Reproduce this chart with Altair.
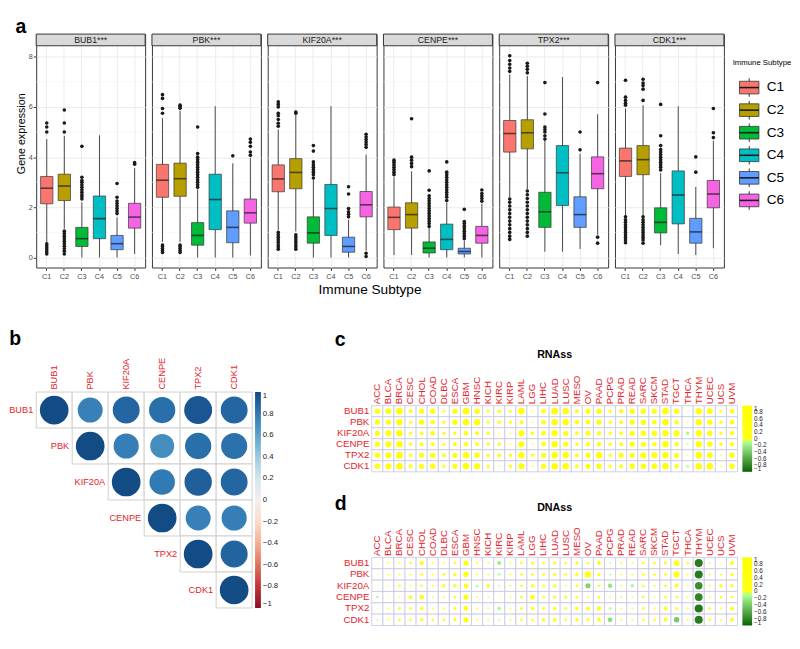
import altair as alt
import pandas as pd

# ---------------- data ----------------
GENES = ["BUB1", "PBK", "KIF20A", "CENPE", "TPX2", "CDK1"]
SIG = ["***", "***", "***", "***", "***", "***"]
SUBTYPES = ["C1", "C2", "C3", "C4", "C5", "C6"]
SUB_COLORS = ["#F8766D", "#B79F00", "#00BA38", "#00BFC4", "#619CFF", "#F564E3"]
Y_TICKS = [0, 2, 4, 6, 8]
MINOR_GRID = [1, 3, 5, 7]

# box statistics per gene, in subtype order C1..C6
Q1 = {
    "BUB1": [2.14, 2.27, 0.44, 0.75, 0.31, 1.17],
    "PBK": [2.40, 2.44, 0.49, 1.11, 0.59, 1.37],
    "KIF20A": [2.62, 2.74, 0.57, 0.88, 0.21, 1.62],
    "CENPE": [1.11, 1.17, 0.18, 0.31, 0.14, 0.57],
    "TPX2": [4.20, 4.33, 1.20, 2.07, 1.20, 2.74],
    "CDK1": [3.23, 3.30, 0.98, 1.34, 0.57, 1.98],
}
MED = {
    "BUB1": [2.76, 2.85, 0.75, 1.55, 0.55, 1.61],
    "PBK": [3.08, 3.14, 0.88, 2.31, 1.20, 1.78],
    "KIF20A": [3.13, 3.39, 0.98, 1.95, 0.44, 2.10],
    "CENPE": [1.60, 1.71, 0.37, 0.72, 0.24, 0.88],
    "TPX2": [4.94, 4.97, 1.82, 3.38, 1.71, 3.34],
    "CDK1": [3.85, 3.90, 1.40, 2.49, 1.02, 2.53],
}
Q3 = {
    "BUB1": [3.23, 3.32, 1.20, 2.45, 0.88, 2.16],
    "PBK": [3.71, 3.76, 1.39, 3.32, 1.86, 2.33],
    "KIF20A": [3.69, 3.94, 1.62, 2.91, 0.81, 2.63],
    "CENPE": [2.01, 2.18, 0.62, 1.33, 0.37, 1.24],
    "TPX2": [5.46, 5.49, 2.60, 4.46, 2.42, 4.01],
    "CDK1": [4.36, 4.46, 1.98, 3.45, 1.56, 3.07],
}
WLO = {
    "BUB1": [0.62, 1.15, 0.00, 0.00, 0.00, 0.14],
    "PBK": [0.62, 0.62, 0.00, 0.00, 0.00, 0.08],
    "KIF20A": [1.10, 1.04, 0.00, 0.00, 0.00, 0.27],
    "CENPE": [0.10, 0.10, 0.00, 0.00, 0.00, 0.00],
    "TPX2": [2.40, 2.72, 0.23, 0.23, 0.34, 0.91],
    "CDK1": [1.69, 1.69, 0.49, 0.14, 0.10, 0.37],
}
WHI = {
    "BUB1": [4.72, 4.85, 2.20, 4.87, 1.60, 3.56],
    "PBK": [5.55, 5.85, 2.72, 6.03, 3.75, 3.96],
    "KIF20A": [5.10, 5.70, 3.10, 6.03, 1.50, 4.10],
    "CENPE": [3.20, 3.43, 1.17, 2.20, 0.66, 2.14],
    "TPX2": [7.29, 7.23, 4.65, 7.19, 4.14, 5.71],
    "CDK1": [5.94, 6.07, 3.36, 6.03, 2.81, 4.65],
}
OUTLIERS = {
    "BUB1": [
        [5.0, 5.2, 5.36, 0.14, 0.22, 0.3, 0.38, 0.46, 0.54],
        [5.0, 5.36, 5.88, 0.14, 0.25, 0.35, 0.45, 0.55, 0.65, 0.75, 0.85, 0.95, 1.05],
        [2.33, 2.42, 2.5, 2.6, 2.7, 2.8, 2.9, 3.0, 3.07, 3.2, 4.43],
        [],
        [1.75, 1.85, 1.95, 2.05, 2.15, 2.25, 2.4, 2.95],
        [3.72, 3.78],
    ],
    "PBK": [
        [5.75, 5.94, 6.34, 6.49, 0.2, 0.28, 0.36, 0.44, 0.5],
        [5.95, 6.02, 6.07, 0.2, 0.28, 0.36, 0.44, 0.5],
        [2.8, 2.9, 3.0, 3.1, 3.2, 3.3, 3.4, 3.5, 3.6, 3.7, 3.8, 3.9, 4.0, 4.14, 5.2],
        [],
        [4.05],
        [4.07, 4.2, 4.43, 4.59, 4.72],
    ],
    "KIF20A": [
        [5.23, 5.35, 5.5, 5.65, 5.75, 6.0, 6.1, 6.2, 0.33, 0.42, 0.5, 0.6, 0.7, 0.8, 0.9, 1.0],
        [5.75, 5.8, 0.33, 0.42, 0.5, 0.6, 0.7, 0.8, 0.9],
        [3.17, 3.3, 3.4, 3.5, 3.6, 3.7, 3.81, 4.24, 4.46],
        [],
        [1.62, 1.72, 1.82, 1.95, 2.53, 2.82],
        [4.39, 4.5, 4.6, 4.7, 4.8, 4.91, 0.04, 0.17],
    ],
    "CENPE": [
        [3.3, 3.4, 3.5, 3.6, 3.7, 3.8, 3.88],
        [3.62, 3.75, 3.88, 4.0, 5.53],
        [1.24, 1.35, 1.45, 1.55, 1.65, 1.75, 1.85, 1.95, 2.05, 2.15, 2.25, 2.35, 2.46, 2.68, 3.45],
        [2.27, 2.4, 2.5, 2.6, 2.7, 2.8, 2.9, 3.0, 3.1, 3.2, 3.3, 3.4, 3.81],
        [0.75, 0.85, 0.95, 1.05, 1.15, 1.25, 1.35, 1.43, 1.92],
        [2.24, 2.35, 2.45, 2.55, 2.69],
    ],
    "TPX2": [
        [7.42, 7.55, 7.7, 7.85, 8.04, 0.72, 0.85, 1.0, 1.15, 1.3, 1.45, 1.6, 1.75, 1.9, 2.05, 2.2, 2.33],
        [7.36, 7.5, 7.62, 7.74, 0.85, 1.0, 1.15, 1.3, 1.45, 1.6, 1.75, 1.9, 2.05, 2.2, 2.35, 2.5, 2.65],
        [4.72, 4.85, 5.0, 5.1, 5.2, 5.72, 6.97],
        [],
        [4.29, 5.0],
        [6.97, 0.57, 0.81],
    ],
    "CDK1": [
        [6.07, 6.15, 6.26, 6.39, 7.06, 0.59, 0.7, 0.8, 0.9, 1.0, 1.1, 1.2, 1.3, 1.4, 1.5, 1.62],
        [6.26, 6.71, 6.85, 6.95, 7.1, 0.57, 0.7, 0.8, 0.9, 1.0, 1.1, 1.2, 1.3, 1.4, 1.5, 1.62],
        [3.49, 3.6, 3.7, 3.8, 3.9, 4.0, 4.1, 4.2, 4.3, 4.46, 4.85, 6.1],
        [],
        [3.4, 4.01],
        [4.78, 4.97, 5.94],
    ],
}

# gene-gene correlation matrix (panel b)
CORR = {
    "BUB1": [1.00, 0.76, 0.88, 0.84, 0.95, 0.88],
    "PBK": [0.76, 1.00, 0.77, 0.70, 0.84, 0.83],
    "KIF20A": [0.88, 0.77, 1.00, 0.79, 0.91, 0.88],
    "CENPE": [0.84, 0.70, 0.79, 1.00, 0.76, 0.77],
    "TPX2": [0.95, 0.84, 0.91, 0.76, 1.00, 0.89],
    "CDK1": [0.88, 0.83, 0.88, 0.77, 0.89, 1.00],
}

CANCERS = ["ACC", "BLCA", "BRCA", "CESC", "CHOL", "COAD", "DLBC", "ESCA", "GBM", "HNSC",
           "KICH", "KIRC", "KIRP", "LAML", "LGG", "LIHC", "LUAD", "LUSC", "MESO", "OV",
           "PAAD", "PCPG", "PRAD", "READ", "SARC", "SKCM", "STAD", "TGCT", "THCA", "THYM",
           "UCEC", "UCS", "UVM"]

RNASS = {
    "BUB1": [0.4, 0.45, 0.62, 0.18, 0.35, 0.4, 0.1, 0.35, 0.58, 0.4, 0.12, 0.18, 0.12, 0.58, 0.03, 0.3,
             0.62, 0.55, 0.2, 0.35, 0.4, 0.16, 0.25, 0.4, 0.4, 0.35, 0.58, 0.4, 0.02, 0.55, 0.45, 0.12, 0.3],
    "PBK": [0.35, 0.35, 0.55, 0.16, 0.4, 0.25, 0.16, 0.4, 0.58, 0.55, 0.12, 0.16, 0.16, 0.2, 0.04, 0.3,
            0.58, 0.55, 0.3, 0.3, 0.35, 0.16, 0.2, 0.35, 0.4, 0.3, 0.58, 0.25, 0.03, 0.55, 0.4, 0.16, 0.3],
    "KIF20A": [0.35, 0.5, 0.58, 0.16, 0.2, 0.3, 0.16, 0.16, 0.3, 0.2, 0.16, 0.03, 0.04, 0.5, 0.16, 0.3,
               0.55, 0.35, 0.2, 0.35, 0.25, 0.16, 0.2, 0.35, 0.4, 0.4, 0.55, 0.5, -0.15, 0.55, 0.4, 0.16, 0.25],
    "CENPE": [0.35, 0.5, 0.58, 0.16, 0.2, 0.2, 0.12, 0.2, 0.25, 0.2, 0.16, 0.16, 0.04, 0.5, 0.04, 0.3,
              0.55, 0.35, 0.16, 0.25, 0.25, 0.16, 0.2, 0.35, 0.35, 0.25, 0.55, 0.25, -0.05, 0.55, 0.4, 0.16, 0.25],
    "TPX2": [0.4, 0.5, 0.62, 0.16, 0.35, 0.4, 0.2, 0.35, 0.55, 0.4, 0.16, 0.2, 0.16, 0.55, 0.16, 0.35,
             0.58, 0.55, 0.2, 0.35, 0.55, 0.16, 0.35, 0.35, 0.5, 0.5, 0.58, 0.35, 0.03, 0.62, 0.45, 0.04, 0.4],
    "CDK1": [0.4, 0.5, 0.58, 0.2, 0.35, 0.4, 0.16, 0.35, 0.55, 0.5, 0.16, 0.03, 0.16, 0.5, 0.04, 0.35,
             0.58, 0.55, 0.2, 0.35, 0.4, 0.16, 0.2, 0.4, 0.4, 0.4, 0.58, 0.25, -0.1, 0.58, 0.55, 0.04, 0.4],
}

DNASS = {
    "BUB1": [0.02, 0.05, 0.05, 0.08, 0.25, 0.05, 0.05, 0.1, 0.35, 0.05, 0.05, -0.2, 0.05, 0.1, 0.15, 0.1,
             0.15, 0.1, 0.15, 0.1, 0.2, -0.05, 0.05, 0.05, 0.1, 0.1, 0.15, 0.45, 0.1, -0.85, -0.05, 0.02, 0.2],
    "PBK": [0.02, 0.05, 0.05, 0.05, 0.1, 0.05, 0.1, 0.15, 0.35, 0.05, 0.05, -0.1, 0.05, 0.1, 0.1, 0.1,
            0.15, 0.1, 0.15, 0.55, 0.15, -0.05, 0.05, 0.05, 0.1, 0.1, 0.1, 0.5, 0.05, -0.85, 0.05, 0.05, 0.15],
    "KIF20A": [0.02, 0.02, 0.1, 0.05, 0.1, 0.05, 0.15, 0.15, 0.3, -0.1, 0.15, -0.05, 0.05, 0.1, 0.15, 0.1,
               0.15, 0.05, 0.1, -0.35, 0.1, -0.25, 0.05, -0.15, 0.1, 0.05, 0.1, 0.2, 0.05, -0.75, 0.05, 0.15, 0.15],
    "CENPE": [-0.1, 0.02, 0.05, 0.2, 0.3, 0.05, 0.05, 0.1, 0.35, 0.05, 0.05, 0.02, 0.05, 0.1, 0.3, 0.1,
              0.15, 0.15, 0.1, 0.05, 0.1, 0.05, 0.05, 0.05, 0.1, 0.05, 0.1, 0.1, 0.05, -0.8, 0.05, 0.1, 0.1],
    "TPX2": [0.02, 0.05, 0.1, 0.1, 0.15, 0.05, 0.05, 0.1, 0.3, 0.05, 0.05, -0.15, 0.05, 0.1, 0.15, 0.1,
             0.15, 0.1, 0.15, 0.2, 0.25, -0.1, 0.05, 0.05, 0.1, 0.05, 0.2, 0.1, 0.05, -0.88, 0.1, 0.05, 0.2],
    "CDK1": [-0.05, 0.05, 0.1, 0.1, 0.15, 0.1, 0.1, 0.15, 0.35, 0.05, 0.05, -0.05, 0.05, 0.1, 0.1, 0.15,
             0.2, 0.1, 0.15, 0.15, 0.2, -0.3, 0.05, 0.05, 0.1, 0.1, 0.2, -0.4, 0.05, -0.85, 0.1, 0.05, 0.2],
}

LEGEND_VALUES = [-1, -0.8, -0.6, -0.4, -0.2, 0, 0.2, 0.4, 0.6, 0.8, 1]

# ---------------- style ----------------
FONT = "Liberation Sans"
RED = "#E4252D"
PW, STRIP_H, PH = 112, 12, 228
Y_DOMAIN = [-0.4, 8.904]

# ---------------- panel a ----------------
rows = []
for g in GENES:
    for k, s in enumerate(SUBTYPES):
        rows.append(dict(kind="box", gene=g, subtype=s, q1=Q1[g][k], med=MED[g][k],
                         q3=Q3[g][k], lo=WLO[g][k], hi=WHI[g][k]))
        for v in OUTLIERS[g][k]:
            rows.append(dict(kind="out", gene=g, subtype=s, v=v))
    rows.append(dict(kind="strip", gene=g, label=g + SIG[GENES.index(g)]))
    for m in MINOR_GRID:
        rows.append(dict(kind="minor", gene=g, v=m))
df_a = pd.DataFrame(rows)

yscale = alt.Scale(domain=Y_DOMAIN, nice=False, zero=False)
yaxis_first = alt.Axis(values=Y_TICKS, title="Gene expression", titleFontSize=11, titleFontWeight="normal",
                       titleColor="black", labelFontSize=7.5, labelColor="#4D4D4D", tickColor="#333333",
                       tickSize=3, labelPadding=1, titlePadding=2, domain=False, grid=True,
                       gridColor="#EBEBEB", titleY=102)
yaxis_other = alt.Axis(values=Y_TICKS, labels=False, ticks=False, domain=False, grid=True,
                       gridColor="#EBEBEB", title=None)
xscale = alt.Scale(type="band", domain=SUBTYPES, paddingInner=0, paddingOuter=0.1)
xaxis = alt.Axis(labelFontSize=7.5, labelColor="#4D4D4D", tickColor="#333333", tickSize=3,
                 labelPadding=2, domain=False, grid=True, gridColor="#EBEBEB", bandPosition=0.5,
                 labelAngle=0)
X = alt.X("subtype:N", scale=xscale, axis=xaxis, title=None)
csc = alt.Scale(domain=SUBTYPES, range=SUB_COLORS)


def gene_panel(g, first):
    ya = yaxis_first if first else yaxis_other
    yt = "Gene expression" if first else None

    def Y(f):
        return alt.Y(f, scale=yscale, axis=ya, title=yt)

    base = alt.Chart()
    minor = base.transform_filter(alt.datum.kind == "minor").mark_rule(
        color="#F3F3F3", strokeWidth=0.6).encode(y=Y("v:Q"), x=alt.value(0), x2=alt.value(PW))
    whisk = base.transform_filter(alt.datum.kind == "box").mark_rule(
        color="#333333", strokeWidth=0.9).encode(x=X, y=Y("lo:Q"), y2="hi:Q")
    boxes = base.transform_filter(alt.datum.kind == "box").mark_bar(
        width=alt.RelativeBandSize(0.7), stroke="#333333", strokeWidth=0.7).encode(
        x=X, y=Y("q1:Q"), y2="q3:Q", color=alt.Color("subtype:N", scale=csc, legend=None))
    meds = base.transform_filter(alt.datum.kind == "box").mark_tick(
        color="#1A1A1A", thickness=1.6, size=PW / 6.2 * 0.7).encode(x=X, y=Y("med:Q"))
    outs = base.transform_filter(alt.datum.kind == "out").mark_circle(
        color="#1A1A1A", size=14, opacity=1).encode(x=X, y=Y("v:Q"))
    strip_rect = base.transform_filter(alt.datum.kind == "strip").mark_rect(
        fill="#D9D9D9", stroke="#333333", strokeWidth=1).encode(
        x=alt.value(0), x2=alt.value(PW), y=alt.value(0), y2=alt.value(STRIP_H))
    strip_text = base.transform_filter(alt.datum.kind == "strip").mark_text(
        fontSize=9, color="#1A1A1A", baseline="middle").encode(
        x=alt.value(PW / 2), y=alt.value(STRIP_H / 2 + 0.5), text="label:N")
    ch = alt.layer(minor, whisk, boxes, meds, outs, strip_rect, strip_text,
                   data=df_a[df_a.gene == g]).properties(width=PW, height=PH + STRIP_H)
    if first:
        ch = ch.properties(title=alt.TitleParams("a", anchor="start", fontSize=20, fontWeight="bold",
                                                 offset=-3, frame="bounds"))
    return ch


panels = alt.hconcat(*[gene_panel(g, i == 0) for i, g in enumerate(GENES)], spacing=5,
                     title=alt.TitleParams("Immune Subtype", orient="bottom", anchor="middle",
                                           fontSize=14, fontWeight="normal", offset=3, frame="bounds"))

leg_df = pd.DataFrame({"subtype": SUBTYPES})
leg_title_df = pd.DataFrame({"t": ["Immune Subtype"]})
LY = alt.Y("subtype:N", scale=alt.Scale(type="band", domain=SUBTYPES, range=[43.4, 182.6],
                                        paddingInner=0, paddingOuter=0), axis=None)
leg_wh = alt.Chart(leg_df).mark_bar(height=19, color="#333333").encode(
    y=LY, x=alt.value(16.5), x2=alt.value(17.5))
leg_box = alt.Chart(leg_df).mark_bar(height=13, stroke="#333333", strokeWidth=0.8).encode(
    y=LY, x=alt.value(7), x2=alt.value(27), color=alt.Color("subtype:N", scale=csc, legend=None))
leg_med = alt.Chart(leg_df).mark_bar(height=1.6, color="#1A1A1A").encode(
    y=LY, x=alt.value(7), x2=alt.value(27))
leg_txt = alt.Chart(leg_df).mark_text(align="left", baseline="middle", fontSize=14).encode(
    y=LY, x=alt.value(35), text="subtype:N")
leg_ttl = alt.Chart(leg_title_df).mark_text(align="left", baseline="middle", fontSize=8).encode(
    x=alt.value(0), y=alt.value(30), text="t:N")
legend_a = alt.layer(leg_wh, leg_box, leg_med, leg_txt, leg_ttl).properties(
    width=58, height=PH + STRIP_H, view=alt.ViewBackground(stroke="transparent"))

top_row = alt.hconcat(panels, legend_a, spacing=7)

# ---------------- panel b ----------------
cells = []
for i, rg in enumerate(GENES):
    for j, cg in enumerate(GENES):
        if j >= i:
            cells.append(dict(row=rg, col=cg, r=CORR[rg][j], absr=abs(CORR[rg][j])))
df_b = pd.DataFrame(cells)
df_b_lab = pd.DataFrame({"row": GENES, "col": GENES, "label": GENES})

CB = 37
bx = alt.X("col:N", sort=GENES, scale=alt.Scale(type="band", domain=GENES, paddingInner=0, paddingOuter=0),
           axis=alt.Axis(orient="top", labelAngle=270, labelColor=RED, labelFontSize=9.5, ticks=False,
                         domain=False, grid=False, labelPadding=3), title=None)
by = alt.Y("row:N", sort=GENES, scale=alt.Scale(type="band", domain=GENES, paddingInner=0, paddingOuter=0),
           axis=None)
b_cells = alt.Chart(df_b).mark_rect(fill="white", stroke="#CFCFCF", strokeWidth=1).encode(x=bx, y=by)
b_dots = alt.Chart(df_b).mark_circle(opacity=1).encode(
    x=bx, y=by,
    color=alt.Color("r:Q", scale=alt.Scale(scheme="redblue", domain=[-1, 1]),
                    legend=alt.Legend(title=None, orient="right", offset=3, gradientLength=CB * 6,
                                      gradientThickness=6, values=LEGEND_VALUES, format=".1~f",
                                      labelFontSize=8, labelColor="#222222", labelOverlap=False,
                                      direction="vertical", type="gradient")),
    size=alt.Size("absr:Q", scale=alt.Scale(domain=[0, 1], range=[0, 870]), legend=None))
b_lab = alt.Chart(df_b_lab).mark_text(align="right", baseline="middle", fontSize=9.5, color=RED,
                                      dx=-(CB / 2 + 3)).encode(x=bx, y=by, text="label:N")
panel_b = alt.layer(b_cells, b_dots, b_lab).properties(
    width=CB * 6, height=CB * 6, view=alt.ViewBackground(stroke="transparent"),
    title=alt.TitleParams("b", anchor="start", fontSize=20, fontWeight="bold", offset=9, frame="bounds"))


# ---------------- panels c / d ----------------
def ss_chart(title, values, height, toff, ext):
    recs = [dict(gene=g, cancer=c, r=values[g][j], absr=abs(values[g][j]))
            for g in GENES for j, c in enumerate(CANCERS)]
    d = pd.DataFrame(recs)
    sx = alt.X("cancer:N", sort=CANCERS,
               scale=alt.Scale(type="band", domain=CANCERS, paddingInner=0, paddingOuter=0),
               axis=alt.Axis(orient="top", labelAngle=270, labelColor=RED, labelFontSize=10, ticks=False,
                             domain=False, grid=False, labelPadding=2, offset=-ext), title=None)
    sy = alt.Y("gene:N", sort=GENES,
               scale=alt.Scale(type="band", domain=GENES, paddingInner=0, paddingOuter=0,
                               range=[ext, ext + height]),
               axis=alt.Axis(labelColor=RED, labelFontSize=10, ticks=False, domain=False, grid=False,
                             labelPadding=3), title=None)
    rect = alt.Chart(d).mark_rect(fill="white", stroke="#C6C6DF", strokeWidth=0.8).encode(x=sx, y=sy)
    dots = alt.Chart(d).mark_circle(opacity=1).encode(
        x=sx, y=sy,
        color=alt.Color("r:Q", scale=alt.Scale(domain=[-1, 0, 1], range=["#006400", "#FFFFFF", "#FFFF00"]),
                        legend=alt.Legend(title=None, orient="none", legendX=381, legendY=ext,
                                          gradientLength=height,
                                          gradientThickness=10, values=LEGEND_VALUES, format=".1~f",
                                          labelFontSize=6.5, labelColor="#222222", labelOverlap=False,
                                          direction="vertical", type="gradient", labelOffset=2)),
        size=alt.Size("absr:Q", scale=alt.Scale(domain=[0, 1], range=[0, 80]), legend=None))
    return alt.layer(rect, dots).properties(
        width=376, height=height + ext, view=alt.ViewBackground(stroke="transparent"),
        title=alt.TitleParams(title, fontSize=11, fontWeight="bold", frame="group", offset=toff))


panel_c = alt.vconcat(ss_chart("RNAss", RNASS, 68, 16, 14),
                      title=alt.TitleParams("c", anchor="start", fontSize=20, fontWeight="bold",
                                            offset=-2, frame="bounds")).resolve_scale(
    color="independent", size="independent")
panel_d = alt.vconcat(ss_chart("DNAss", DNASS, 70, 14, 0),
                      title=alt.TitleParams("d", anchor="start", fontSize=20, fontWeight="bold",
                                            offset=-12, frame="bounds")).resolve_scale(
    color="independent", size="independent")

right = alt.vconcat(panel_c, panel_d, spacing=21).resolve_scale(color="independent", size="independent")
bottom_row = alt.hconcat(panel_b, right, spacing=57).resolve_scale(color="independent", size="independent")

chart = alt.concat(top_row, bottom_row, columns=1, spacing=32, align="none").resolve_scale(
    color="independent", size="independent").properties(
    padding={"left": 0, "top": 0, "right": 0, "bottom": 0}, background="white").configure(
    font=FONT).configure_view(stroke="#333333", strokeWidth=1)

chart.save("out.html", embed_options={"renderer": "svg", "actions": False})
